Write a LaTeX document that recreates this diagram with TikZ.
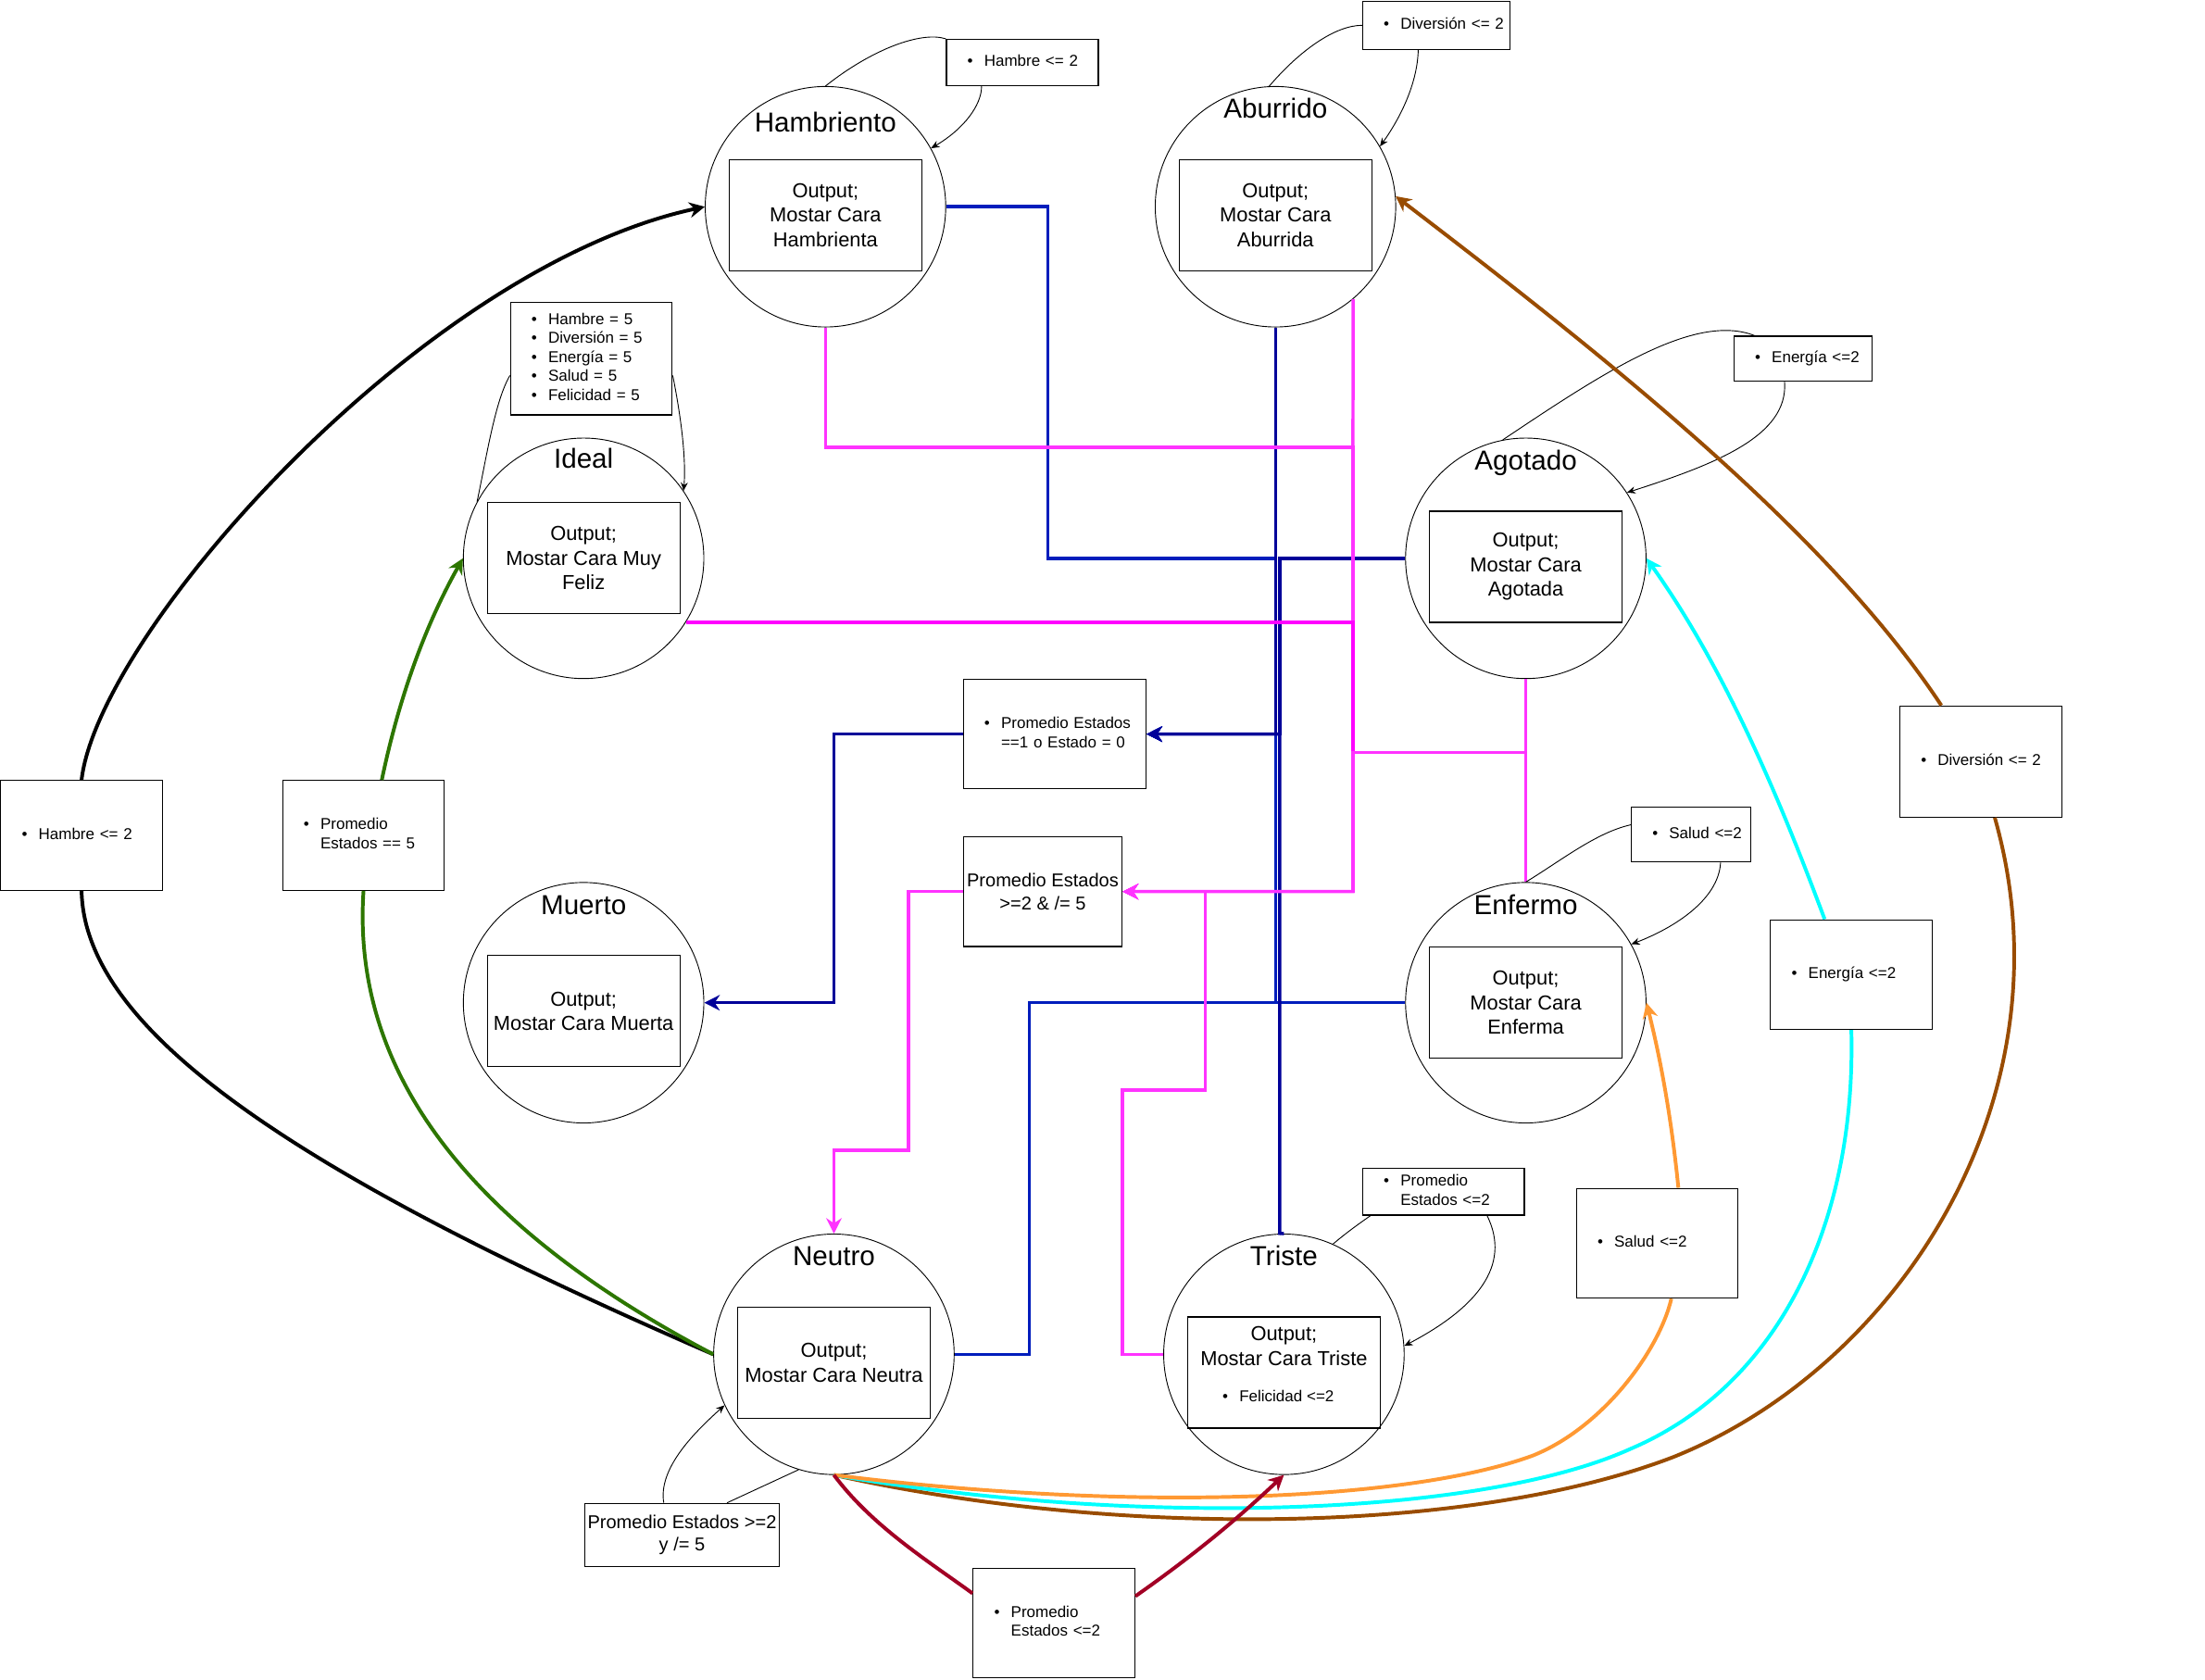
\documentclass[tikz,border=0pt]{standalone}
\usepackage{fontspec}
\setmainfont{Liberation Sans}
\usepackage{tikz}
\usetikzlibrary{calc, arrows.meta}

\definecolor{azulA}{HTML}{001DBC}
\definecolor{azulB}{HTML}{000099}
\definecolor{rosaA}{HTML}{FF33FF}
\definecolor{rosaB}{HTML}{FF00FF}
\definecolor{verdeO}{HTML}{2D7600}
\definecolor{cafe}{HTML}{994C00}
\definecolor{cian}{HTML}{00FFFF}
\definecolor{naranja}{HTML}{FF9933}
\definecolor{carmin}{HTML}{A20025}

\newcommand{\fs}[2]{\fontsize{#1}{#2}\selectfont}
\newcommand{\lst}[1]{\begin{tabular}{@{}l@{\hspace{8pt}}l@{}}#1\end{tabular}}

\begin{document}
\begin{tikzpicture}[x=1pt, y=-1pt,
    est/.style={circle, draw, line width=0.6pt, minimum size=171pt, inner sep=0pt},
    tit/.style={font=\fs{19.5}{23}, anchor=base, inner sep=0pt},
    caja/.style={draw, line width=0.8pt, minimum width=137pt, minimum height=79pt, align=center, font=\fs{14.4}{17.5}, inner sep=2pt},
    lbl/.style 2 args={draw, line width=0.8pt, font=\fs{11.2}{13.5}, align=left, inner xsep=15pt, inner ysep=0pt, text width=#1pt, minimum height=#2pt},
    cond/.style={draw, line width=0.8pt, align=center, font=\fs{13.2}{16}, inner sep=1pt},
    lazo/.style={line width=0.6pt},
    punta/.style={-{Stealth[length=6pt, width=5pt]}},
    orto/.style={line width=2.3pt},
    grueso/.style={line width=2.6pt},
    flecha/.style={-{Stealth[length=11pt, width=11pt]}},
]
    % 背景与画布大小
    \fill[white] (0,0) rectangle (1568,1194);
    \useasboundingbox (0,0) rectangle (1568,1194);

    % --- 宏：状态（圆 + 标题 + 输出框） ---
    \newcommand{\estado}[7]{
        \node[est] (#1) at (#2,#3) {};
        \node[tit] (#1T) at (#2,#3-#5) {#4};
        \node[caja] (#1B) at (#2,#3+#6) {#7};
    }

    % --- 状态节点 ---
    \estado{hamb}{587}{147}{Hambriento}{53}{6}{Output;\\Mostar Cara\\Hambrienta}
    \estado{abur}{907}{147}{Aburrido}{63}{6}{Output;\\Mostar Cara\\Aburrida}
    \estado{ideal}{415}{397}{Ideal}{64}{0}{Output;\\Mostar Cara Muy\\Feliz}
    \estado{agot}{1085}{397}{Agotado}{63}{6}{Output;\\Mostar Cara\\Agotada}
    \estado{muerto}{415}{713}{Muerto}{63}{6}{Output;\\Mostar Cara Muerta}
    \estado{enfer}{1085}{713}{Enfermo}{63}{0}{Output;\\Mostar Cara\\Enferma}
    \estado{neutro}{593}{963}{Neutro}{63}{6}{Output;\\Mostar Cara Neutra}
    \estado{triste}{913}{963}{Triste}{63}{13}{}
    \node[font=\fs{14.4}{17.5}, align=center, inner sep=0pt] (tristeTx) at (913,957) {Output;\\Mostar Cara Triste};
    \node[font=\fs{11.2}{13.5}, inner sep=0pt] (tristeIt) at (909,993) {\textbullet\hspace{8pt}Felicidad <=2};

    % --- 自环条件框 ---
    \node[lbl={78}{33}] (lazoHamb) at (727,44.5) {\lst{\textbullet & Hambre <= 2}};
    \node[lbl={75}{34}] (lazoAbur) at (1021.5,18) {\lst{\textbullet & Diversión <= 2}};
    \node[lbl={85}{80}] (lazoIdeal) at (420.5,255) {\lst{\textbullet & Hambre = 5\\ \textbullet & Diversión = 5\\ \textbullet & Energía = 5\\ \textbullet & Salud = 5\\ \textbullet & Felicidad = 5}};
    \node[lbl={68}{32}] (lazoAgot) at (1282,255) {\lst{\textbullet & Energía <=2}};
    \node[lbl={55}{39}] (lazoEnfer) at (1202.5,593.5) {\lst{\textbullet & Salud <=2}};
    \node[lbl={85}{33}] (lazoTriste) at (1026.5,847.5) {\lst{\textbullet & Promedio\\ & Estados <=2}};
    \node[cond, minimum width=138pt, minimum height=45pt] (lazoNeutro) at (485,1091.5) {Promedio Estados >=2\\y /= 5};

    % --- 转移条件框 ---
    \node[lbl={100}{78}] (condMuerto) at (750,522) {\lst{\textbullet & Promedio Estados\\ & ==1 o Estado = 0}};
    \node[cond, minimum width=113pt, minimum height=78pt] (condNeutro) at (741.5,634) {Promedio Estados\\>=2 \& /= 5};
    \node[lbl={85}{78}] (condHamb) at (58,594) {\lst{\textbullet & Hambre <= 2}};
    \node[lbl={85}{78}] (condIdeal) at (258.5,594) {\lst{\textbullet & Promedio\\ & Estados == 5}};
    \node[lbl={85}{79}] (condAbur) at (1408.5,541.5) {\lst{\textbullet & Diversión <= 2}};
    \node[lbl={85}{78}] (condAgot) at (1316.5,693) {\lst{\textbullet & Energía <=2}};
    \node[lbl={85}{78}] (condEnfer) at (1178.5,884) {\lst{\textbullet & Salud <=2}};
    \node[lbl={85}{78}] (condTriste) at (749.5,1154) {\lst{\textbullet & Promedio\\ & Estados <=2}};

    % --- 蓝色：到 Muerto ---
    \draw[orto, azulA, flecha] (hamb.east) -- (745,147) -- (745,397) -- (907,397) -- (907,522) -- (condMuerto.east);
    \draw[orto, azulB, flecha] (abur.south) -- (907,522) -- (condMuerto.east);
    \draw[orto, azulB, flecha] (agot.west) -- (910,397) -- (910,522) -- (condMuerto.east);
    \draw[orto, azulA, flecha] (enfer.west) -- (907,713) -- (907,522) -- (condMuerto.east);
    \draw[orto, azulA, flecha] (neutro.east) -- (732,963) -- (732,713) -- (907,713) -- (907,522) -- (condMuerto.east);
    \draw[orto, azulB, flecha] (triste.north) -- (910,877) -- (910,522) -- (condMuerto.east);
    \draw[orto, azulB, flecha] (condMuerto.west) -- (593,522) -- (593,713) -- (muerto.east);

    % --- 粉色：到 Neutro ---
    \draw[orto, rosaA, flecha] (hamb.south) |- (962,318) -- (962,634) -- (condNeutro.east);
    \draw[orto, rosaA, flecha] (abur.-50) -- (962,634) -- (condNeutro.east);
    \draw[orto, rosaB, flecha] (ideal.-32) -| (962,634) -- (condNeutro.east);
    \draw[orto, rosaA, flecha] (agot.south) |- (962,535) -- (962,634) -- (condNeutro.east);
    \draw[orto, rosaA, flecha] (enfer.north) |- (962,535) -- (962,634) -- (condNeutro.east);
    \draw[orto, rosaA, flecha] (triste.west) -- (798,963) -- (798,775) -- (857,775) -- (857,634) -- (condNeutro.east);
    \draw[orto, rosaA, flecha] (condNeutro.west) -- (646,634) -- (646,818) -- (593,818) -- (neutro.north);

    % --- 自环 ---
    \draw[lazo] (hamb.north) .. controls (620,35) and (655,22) .. (lazoHamb.north west);
    \draw[lazo, punta] ($(lazoHamb.south)+(-29,0)$) .. controls (698,75) and (685,92) .. (hamb.29);
    \draw[lazo] (abur.93) .. controls (925,35) and (950,18) .. (lazoAbur.west);
    \draw[lazo, punta] ($(lazoAbur.south)+(-13,0)$) .. controls (1008,60) and (995,85) .. (abur.30);
    \draw[lazo] (ideal.152) .. controls (346,325) and (352,285) .. ($(lazoIdeal.west)+(0,12)$);
    \draw[lazo, punta] ($(lazoIdeal.east)+(0,12)$) .. controls (484,295) and (488,325) .. (ideal.34);
    \draw[lazo] (agot.101) .. controls (1140,265) and (1205,222) .. ($(lazoAgot.north west)+(15,0)$);
    \draw[lazo, punta] ($(lazoAgot.south)+(-13,0)$) .. controls (1272,310) and (1220,330) .. (agot.33);
    \draw[lazo] (enfer.north) .. controls (1110,612) and (1135,592) .. ($(lazoEnfer.west)+(0,-7)$);
    \draw[lazo, punta] ($(lazoEnfer.south)+(21,0)$) .. controls (1222,640) and (1190,660) .. (enfer.29);
    \draw[lazo] (triste.66) .. controls (958,876) and (968,869) .. ($(lazoTriste.south west)+(6,0)$);
    \draw[lazo, punta] ($(lazoTriste.south)+(31,0)$) .. controls (1075,900) and (1050,930) .. (triste.4);
    \draw[lazo, punta] ($(lazoNeutro.north)+(-13,0)$) .. controls (468,1045) and (492,1020) .. (neutro.205);
    \draw[lazo] ($(lazoNeutro.north)+(32,0)$) -- (neutro.253);

    % --- 彩色曲线：从 Neutro 出发 ---
    \draw[grueso, black] (neutro.west) .. controls (200,830) and (60,730) .. (condHamb.south);
    \draw[grueso, black, flecha] (condHamb.north) .. controls (70,450) and (300,190) .. (hamb.west);
    \draw[grueso, verdeO] (neutro.west) .. controls (330,870) and (250,760) .. (condIdeal.south);
    \draw[grueso, verdeO, flecha] ($(condIdeal.north)+(13,0)$) .. controls (285,490) and (305,440) .. (ideal.west);
    \draw[grueso, cafe] (neutro.south) .. controls (800,1095) and (1050,1090) .. (1190,1036) .. controls (1350,972) and (1475,780) .. ($(condAbur.south)+(10,0)$);
    \draw[grueso, cafe, flecha] ($(condAbur.north)+(-28,0)$) .. controls (1300,380) and (1150,260) .. (abur.5);
    \draw[grueso, cian] (neutro.south) .. controls (800,1085) and (1050,1080) .. (1160,1030) .. controls (1265,985) and (1320,870) .. (condAgot.south);
    \draw[grueso, cian, flecha] ($(condAgot.north)+(-19,0)$) .. controls (1270,580) and (1230,480) .. (agot.east);
    \draw[grueso, naranja] (neutro.south) .. controls (800,1075) and (1000,1068) .. (1090,1035) .. controls (1140,1015) and (1180,960) .. ($(condEnfer.south)+(10,0)$);
    \draw[grueso, naranja, flecha] ($(condEnfer.north)+(15,0)$) .. controls (1188,790) and (1180,750) .. (enfer.east);
    \draw[grueso, carmin] (neutro.south) .. controls (620,1085) and (660,1110) .. ($(condTriste.west)+(0,-21)$);
    \draw[grueso, carmin, flecha] ($(condTriste.east)+(0,-19)$) .. controls (850,1105) and (880,1080) .. (triste.south);

\end{tikzpicture}
\end{document}
